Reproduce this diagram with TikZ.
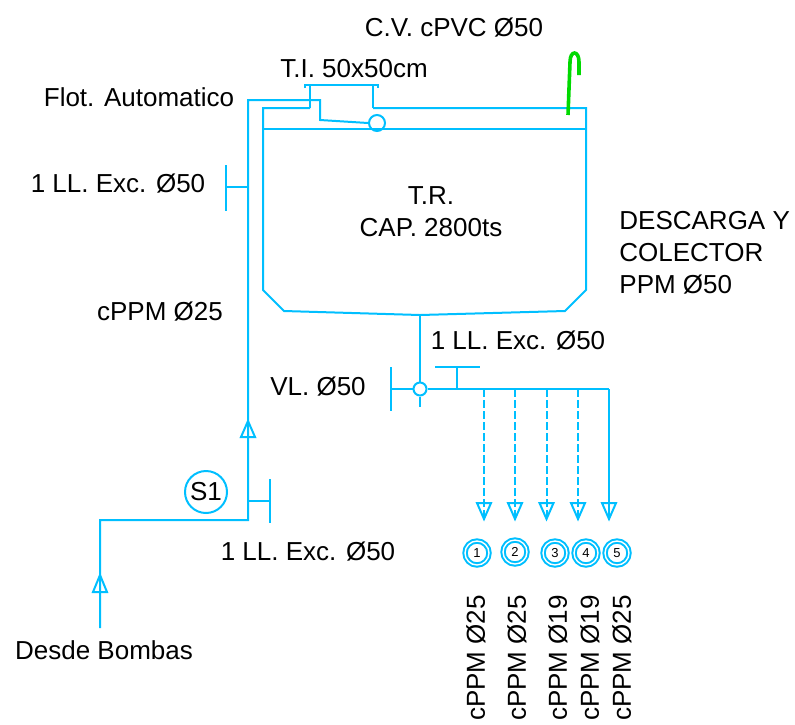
\documentclass[tikz,border=0pt]{standalone}
\usepackage{fontspec}
\setmainfont{Liberation Sans}
\definecolor{pipeblue}{rgb}{0,0.75,1}
\definecolor{ventgreen}{rgb}{0,0.85,0}
\begin{document}
\begin{tikzpicture}[x=0.5pt, y=-0.5pt, font=\fontsize{13}{15}\selectfont,
	label/.style = {shape=rectangle, inner sep=0pt, align=left},
	pipe/.style = {draw=pipeblue, line width=1pt},
	dashpipe/.style = {pipe, dashed, dash pattern=on 4pt off 1.5pt},
	vent/.style = {draw=ventgreen, line width=1.8pt},
	valve/.style = {shape=circle, draw=pipeblue, line width=1pt, fill=white, inner sep=0pt, minimum size=6.5pt},
	float/.style = {shape=circle, draw=pipeblue, line width=1pt, inner sep=0pt, minimum size=8pt},
	pump/.style = {shape=circle, draw=pipeblue, line width=1pt, inner sep=0pt, minimum size=21pt},
	outlet/.style = {shape=circle, draw=pipeblue, line width=1pt, double, double distance=0.7pt, inner sep=0pt, minimum size=12pt, font=\fontsize{6.5}{8}\selectfont}]
	\useasboundingbox (0,0) rectangle (795,724);
	% tank
	\coordinate (lidL) at (310,108);
	\coordinate (lidR) at (373,108);
	\coordinate (tankTL) at (263,108);
	\coordinate (tankTR) at (586,108);
	\coordinate (waterL) at (263,129);
	\coordinate (waterR) at (586,129);
	\coordinate (bottom) at (420,315);
	\draw[pipe] (lidL) -- (tankTL) -- (263,290) -- (284,311) -- (bottom) -- (565,311) -- (586,290) -- (tankTR) -- (lidR);
	\draw[pipe] (waterL) -- (waterR);
	\draw[pipe] (305,88) -- (305,85) -- (378,85) -- (378,88);
	\draw[pipe] (lidL) -- (310,85);
	\draw[pipe] (lidR) -- (373,85);
	% supply line
	\node[float] (flot) at (377,123) {};
	\node[pump] (bomba) at (206,492) {S1};
	\coordinate (start) at (100,628);
	\coordinate (riser) at (248,520);
	\draw[pipe] (start) -- (100,520) -- (riser) -- (248,100) -- (320,100) -- (320,120) -- (flot.west);
	\draw[pipe] (100,575) -- ++(-7,17) -- ++(14,0) -- cycle;
	\draw[pipe] (248,421) -- ++(-7,16) -- ++(14,0) -- cycle;
	\draw[pipe] (248,501) -- (270,501);
	\draw[pipe] (270,479) -- (270,523);
	\draw[pipe] (248,187) -- (226,187);
	\draw[pipe] (226,165) -- (226,211);
	% vent
	\draw[vent] (568,115) -- (570,62) .. controls (570,50) and (579,50) .. (579,62) -- (579,75);
	% outlet
	\node[valve] (vl) at (420,389) {};
	\coordinate (end) at (609,389);
	\draw[pipe] (bottom) -- (vl);
	\draw[pipe] (vl) -- (420,407);
	\draw[pipe] (391,389) -- (vl);
	\draw[pipe] (391,367) -- (391,411);
	\draw[pipe] (vl) -- (end);
	\draw[pipe] (457,389) -- (457,367);
	\draw[pipe] (435,367) -- (480,367);
	\foreach \x in {484,515,546.5,578} {
		\draw[dashpipe] (\x,389) -- (\x,519);
		\draw[pipe] (\x,519) -- ++(-7,-16) -- ++(14,0) -- cycle;
	}
	\draw[pipe] (end) -- (609,519);
	\draw[pipe] (609,519) -- ++(-7,-16) -- ++(14,0) -- cycle;
	\node[outlet] (o1) at (477,553) {1};
	\node[outlet] (o2) at (515,552) {2};
	\node[outlet] (o3) at (555,553) {3};
	\node[outlet] (o4) at (586,553) {4};
	\node[outlet] (o5) at (617,553) {5};
	% labels
	\node[label] (cv) at (454,28) {C.V. cPVC Ø50};
	\node[label] (ti) at (354,69) {T.I. 50x50cm};
	\node[label] (flotlabel) at (139,97) {Flot. Automatico};
	\node[label] (ll1) at (118,184) {1 LL. Exc. Ø50};
	\node[label, align=center] (tr) at (431,212) {T.R.\\[1pt]CAP. 2800ts};
	\node[label, anchor=west] (desc) at (619,253) {DESCARGA Y\\[1pt]COLECTOR\\[1pt]PPM Ø50};
	\node[label] (cppm) at (160,312) {cPPM Ø25};
	\node[label] (ll2) at (518,341) {1 LL. Exc. Ø50};
	\node[label] (vllabel) at (318,387) {VL. Ø50};
	\node[label] (ll3) at (308,552) {1 LL. Exc. Ø50};
	\node[label] (desde) at (104,650) {Desde Bombas};
	\node[label, rotate=90] (c1) at (476,658) {cPPM Ø25};
	\node[label, rotate=90] (c2) at (517,658) {cPPM Ø25};
	\node[label, rotate=90] (c3) at (558,658) {cPPM Ø19};
	\node[label, rotate=90] (c4) at (590,658) {cPPM Ø19};
	\node[label, rotate=90] (c5) at (622,658) {cPPM Ø25};
\end{tikzpicture}
\end{document}
